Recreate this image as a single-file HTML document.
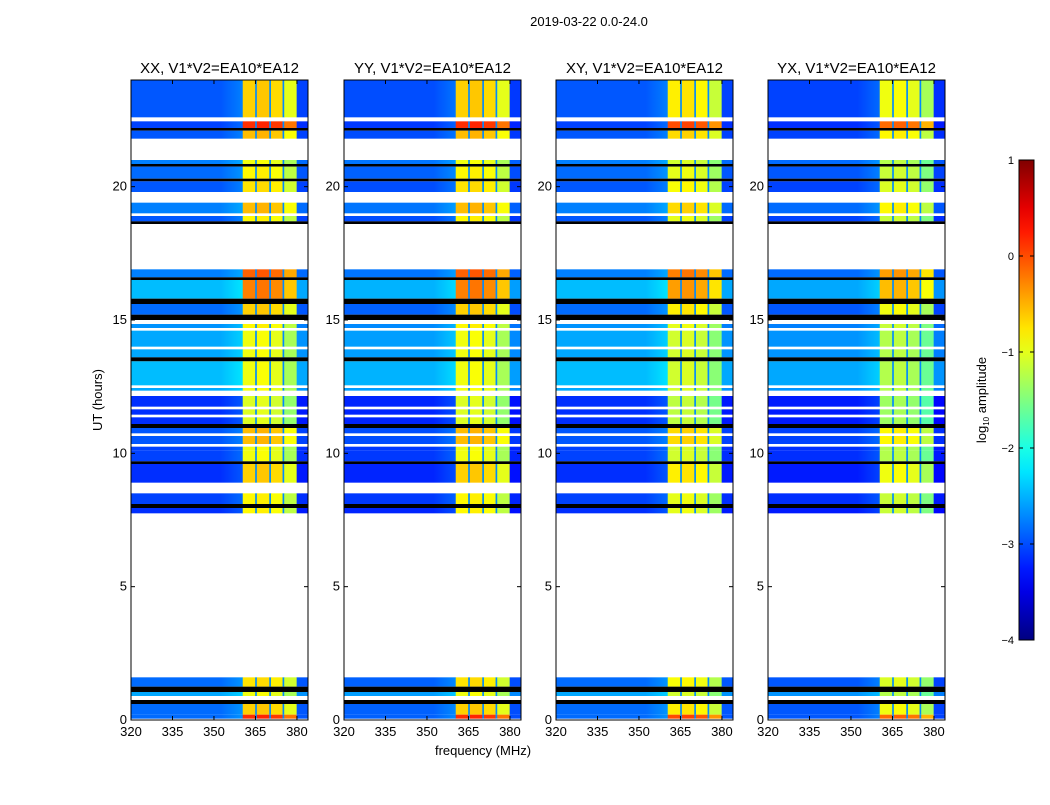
<!DOCTYPE html>
<html><head><meta charset="utf-8">
<style>
html,body{margin:0;padding:0;background:#fff;}
svg text{font-family:"Liberation Sans","DejaVu Sans",sans-serif;fill:#000;}
</style></head>
<body>
<svg id="chart" width="1050" height="800" viewBox="0 0 1050 800" xmlns="http://www.w3.org/2000/svg">
<text x="589" y="26" font-size="13" text-anchor="middle">2019-03-22 0.0-24.0</text>
<text x="483" y="755" font-size="13" text-anchor="middle">frequency (MHz)</text>
<text x="102" y="400" font-size="13" text-anchor="middle" transform="rotate(-90 102 400)">UT (hours)</text>
<g id="panels"></g>
<g id="cbar"></g>
</svg>
<script>
// ---- data ----
const panelTitles = ["XX, V1*V2=EA10*EA12","YY, V1*V2=EA10*EA12","XY, V1*V2=EA10*EA12","YX, V1*V2=EA10*EA12"];
const panelBgOffset = [-0.45, -0.5, -0.45, -0.55];
const panelBandOffset = [-0.2, -0.2, -0.35, -0.5];
const segStart = [22.6,22.45,22.2,22.1,21.8,21.0,20.85,20.75,20.3,20.2,19.8,19.4,19.0,18.9,18.7,18.6,16.9,16.6,16.5,15.8,15.6,15.2,15.0,14.85,14.7,14.6,14.0,13.9,13.6,13.45,12.55,12.45,12.35,12.15,11.75,11.65,11.45,11.35,11.1,10.95,10.75,10.65,10.35,10.25,10.1,9.7,9.6,8.9,8.5,8.1,7.95,7.75,1.6,1.25,1.05,0.9,0.75,0.6,0.2,0.05,0];
const segEnd   = [24,22.6,22.45,22.2,22.1,21.8,21.0,20.85,20.75,20.3,20.2,19.8,19.4,19.0,18.9,18.7,18.6,16.9,16.6,16.5,15.8,15.6,15.2,15.0,14.85,14.7,14.6,14.0,13.9,13.6,13.45,12.55,12.45,12.35,12.15,11.75,11.65,11.45,11.35,11.1,10.95,10.75,10.65,10.35,10.25,10.1,9.7,9.6,8.9,8.5,8.1,7.95,7.75,1.6,1.25,1.05,0.9,0.75,0.6,0.2,0.05];
const segType  = ["d","w","d","k","d","w","d","k","d","k","d","w","d","w","d","k","w","d","k","d","k","d","k","w","d","w","d","w","d","k","d","w","d","w","d","w","d","w","d","k","d","w","d","w","d","d","k","d","w","d","k","d","w","d","k","d","w","k","d","d","w"];
const segBg    = [-2.5,0,-2.6,0,-2.5,0,-2.3,0,-2.4,0,-2.5,0,-2.3,0,-2.5,0,0,-2.3,0,-2.0,0,-2.4,0,0,-2.2,0,-2.1,0,-2.1,0,-2.0,0,-2.1,0,-2.7,0,-2.7,0,-2.7,0,-2.5,0,-2.5,0,-2.6,-2.6,0,-2.7,0,-2.6,0,-2.7,0,-2.4,0,-2.1,0,0,-2.4,-2.4,0];
const segBand  = [-0.5,0,0.3,0,-0.4,0,-0.8,0,-0.7,0,-0.6,0,-0.4,0,-0.7,0,0,0.05,0,-0.1,0,-0.5,0,0,-0.7,0,-0.8,0,-0.8,0,-0.8,0,-0.8,0,-0.9,0,-0.9,0,-0.9,0,-0.4,0,-0.4,0,-0.8,-0.8,0,-0.5,0,-0.7,0,-0.7,0,-0.6,0,-0.8,0,0,-0.5,0.3,0];
const freqMin = 320, freqMax = 384;
const subbandStart = [360.4, 365.5, 370.6, 375.4];
const subbandEnd   = [364.9, 370.0, 374.8, 379.9];
const subbandOffset = [0.05, 0.1, 0.0, -0.3];
const gapLevel = -2.7;
const bgSlopeEnd = 0.2;
const xTicks = [320,335,350,365,380];
const yTicks = [0,5,10,15,20];
const cbarTicks = [1,0,-1,-2,-3,-4];
const vmin = -4, vmax = 1;

// ---- helpers ----
const NS = "http://www.w3.org/2000/svg";
function jet(v){
  let t = Math.max(0, Math.min(1, (v - vmin)/(vmax - vmin)));
  const c = x => Math.round(255*Math.max(0, Math.min(1, x)));
  return `rgb(${c(1.5-Math.abs(4*t-3))},${c(1.5-Math.abs(4*t-2))},${c(1.5-Math.abs(4*t-1))})`;
}
function mk(tag, attrs, parent){
  const e = document.createElementNS(NS, tag);
  for (const k in attrs) e.setAttribute(k, attrs[k]);
  parent.appendChild(e); return e;
}
const panelX = [131,344,556,768], panelW = 177, yTop = 80, yBottom = 720;
const yScale = h => yBottom - h*(yBottom-yTop)/24;

const panels = document.getElementById("panels");
panelTitles.forEach((title, p) => {
  const x0 = panelX[p];
  const xScale = f => x0 + (f - freqMin)*panelW/(freqMax - freqMin);
  const g = mk("g", {}, panels);
  
  
  const pieces = [];
  pieces.push([freqMin, subbandStart[0], "bg"]);
  for (let i=0;i<subbandStart.length;i++){
    pieces.push([subbandStart[i], subbandEnd[i], "band", i]);
    const nxt = i+1 < subbandStart.length ? subbandStart[i+1] : null;
    if (nxt !== null) pieces.push([subbandEnd[i], nxt, "gap"]);
  }
  pieces.push([subbandEnd[subbandEnd.length-1], freqMax, "bg2"]);
  for (let s=0;s<segStart.length;s++){
    const y1 = yScale(segEnd[s]), y2 = yScale(segStart[s]);
    const ht = Math.max(0.8, y2 - y1);
    if (segType[s] === "w") continue;
    if (segType[s] === "k"){
      const r = mk("rect", {x:x0, y:y1, width:panelW, height:ht, fill:"#000"}, g);
      
      
      continue;
    }
    const bg = segBg[s] + panelBgOffset[p];
    const band = segBand[s] + panelBandOffset[p];
    pieces.forEach(pc => {
      const xa = xScale(pc[0]), xb = xScale(pc[1]);
      let fill;
      if (pc[2] === "bg"){
        const gid = `bg${p}_${s}`;
        const lg = mk("linearGradient", {id:gid, x1:0, x2:1, y1:0, y2:0}, g);
        mk("stop", {offset:0, "stop-color":jet(bg)}, lg);
        mk("stop", {offset:0.8, "stop-color":jet(bg)}, lg);
        mk("stop", {offset:1, "stop-color":jet(bg + bgSlopeEnd)}, lg);
        fill = `url(#${gid})`;
      } else if (pc[2] === "bg2") fill = jet(bg - 0.1);
      else if (pc[2] === "gap") fill = jet(gapLevel);
      else fill = jet(band + subbandOffset[pc[3]]);
      const r = mk("rect", {x:xa, y:y1, width:xb-xa+0.3, height:ht, fill:fill}, g);
      
      
    });
  }
  const fr = mk("rect", {x:x0, y:yTop, width:panelW, height:yBottom-yTop, fill:"none", stroke:"#000", "stroke-width":1}, g);
  
  
  const tt = mk("text", {x:x0+panelW/2, y:yTop-7, "font-size":15, "text-anchor":"middle"}, g);
  tt.textContent = title;
  
  
  xTicks.forEach(v => {
    const x = xScale(v);
    mk("line", {x1:x, x2:x, y1:yBottom, y2:yBottom-4, stroke:"#000"}, g);
    mk("line", {x1:x, x2:x, y1:yTop, y2:yTop+4, stroke:"#000"}, g);
    const t = mk("text", {x:x, y:yBottom+16, "font-size":13, "text-anchor":"middle"}, g);
    t.textContent = v;
    
    
  });
  yTicks.forEach(v => {
    const y = yScale(v);
    mk("line", {x1:x0, x2:x0+4, y1:y, y2:y, stroke:"#000"}, g);
    mk("line", {x1:x0+panelW, x2:x0+panelW-4, y1:y, y2:y, stroke:"#000"}, g);
    const t = mk("text", {x:x0-4, y:y+4, "font-size":13, "text-anchor":"end"}, g);
    t.textContent = v;
    
    
  });
});

const cb = document.getElementById("cbar");
const cbX = 1019, cbW = 15, cbTop = 160, cbBot = 640;
const cgrad = mk("linearGradient", {id:"jetgrad", x1:0, x2:0, y1:1, y2:0}, cb);
for (let i=0;i<=20;i++){
  mk("stop", {offset:i/20, "stop-color":jet(vmin + (vmax-vmin)*i/20)}, cgrad);
}
mk("rect", {x:cbX, y:cbTop, width:cbW, height:cbBot-cbTop, fill:"url(#jetgrad)", stroke:"#000"}, cb);
const cbScale = v => cbBot - (v - vmin)*(cbBot-cbTop)/(vmax-vmin);
cbarTicks.forEach(v => {
  const y = cbScale(v);
  mk("line", {x1:cbX, x2:cbX+4, y1:y, y2:y, stroke:"#000"}, cb);
  mk("line", {x1:cbX+cbW, x2:cbX+cbW-4, y1:y, y2:y, stroke:"#000"}, cb);
  const t = mk("text", {x:cbX-5, y:y+4, "font-size":11, "text-anchor":"end"}, cb);
  t.textContent = v < 0 ? "\u2212" + Math.abs(v) : String(v);
  
  
});
const cl = mk("text", {x:986, y:400, "font-size":13, "text-anchor":"middle", transform:"rotate(-90 986 400)"}, cb);
const ts1 = mk("tspan", {}, cl); ts1.textContent = "log";
const ts2 = mk("tspan", {"font-size":8, dy:3}, cl); ts2.textContent = "10";
const ts3 = mk("tspan", {dy:-3}, cl); ts3.textContent = " amplitude";


</script>
</body></html>
